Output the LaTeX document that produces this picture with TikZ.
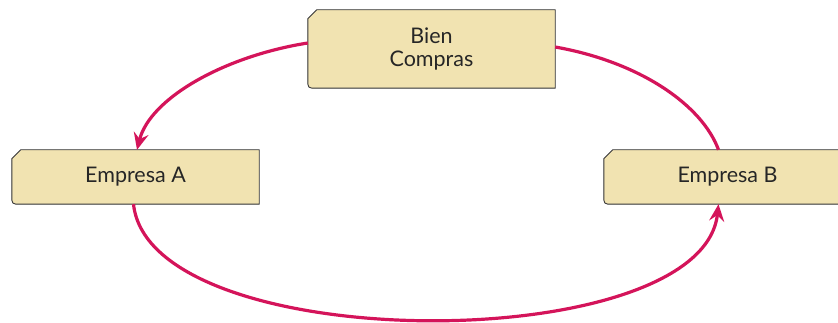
\documentclass[tikz,border=0pt]{standalone}
\usepackage{fontspec}
\setmainfont{Lato}
\usetikzlibrary{arrows.meta}
\definecolor{flowred}{HTML}{D4145A}
\definecolor{boxfill}{HTML}{F1E3B1}
\definecolor{boxedge}{HTML}{3A3A3A}

\tikzset{
    firm/.style={minimum width=247pt, minimum height=54pt, inner sep=0pt, align=center, font=\fontsize{21.5}{23}\selectfont, text=black!85},
    flow/.style={draw=flowred, line width=3.2pt},
    flowtip/.style={-{Stealth[length=17pt, width=15pt, inset=6pt]}},
}

% clipped-corner box around a named node
\newcommand{\firmpath}[1]{%
    ([xshift=9pt]#1.north west) -- (#1.north east) -- (#1.south east)
    -- ([xshift=9pt]#1.south west) .. controls (#1.south west) .. ([yshift=9pt]#1.south west)
    -- ([yshift=-9pt]#1.north west) -- cycle}
\newcommand{\firmshape}[1]{%
    \fill[boxedge, shift={(1.4pt,-1.4pt)}] \firmpath{#1};
    \draw[boxedge, fill=boxfill, line width=0.9pt] \firmpath{#1};
}

\begin{document}
\begin{tikzpicture}[x=1pt, y=-1pt]
    \useasboundingbox (0,0) rectangle (838,323);

    % boxes
    \node[firm, minimum height=78pt] (goods) at (431.5,49) {};
    \node[firm] (firmA) at (135.5,177) {};
    \node[firm] (firmB) at (727.5,177) {};

    \firmshape{goods}
    \firmshape{firmA}
    \firmshape{firmB}

    \node[firm] at (goods) {Bien\\Compras};
    \node[firm] at (firmA) {Empresa A};
    \node[firm] at (firmB) {Empresa B};

    % flows
    \draw[flow, flowtip] ([yshift=6pt]goods.west) .. controls (225,56) and (150,98) .. ([xshift=1.5pt]firmA.north);
    \draw[flow] ([yshift=2pt]goods.east) .. controls (640,62) and (702,105) .. ([xshift=-9pt]firmB.north);
    \draw[flow, flowtip] ([xshift=-2pt]firmA.south) .. controls (150,358) and (702,358) .. ([xshift=-9pt]firmB.south);
\end{tikzpicture}
\end{document}
